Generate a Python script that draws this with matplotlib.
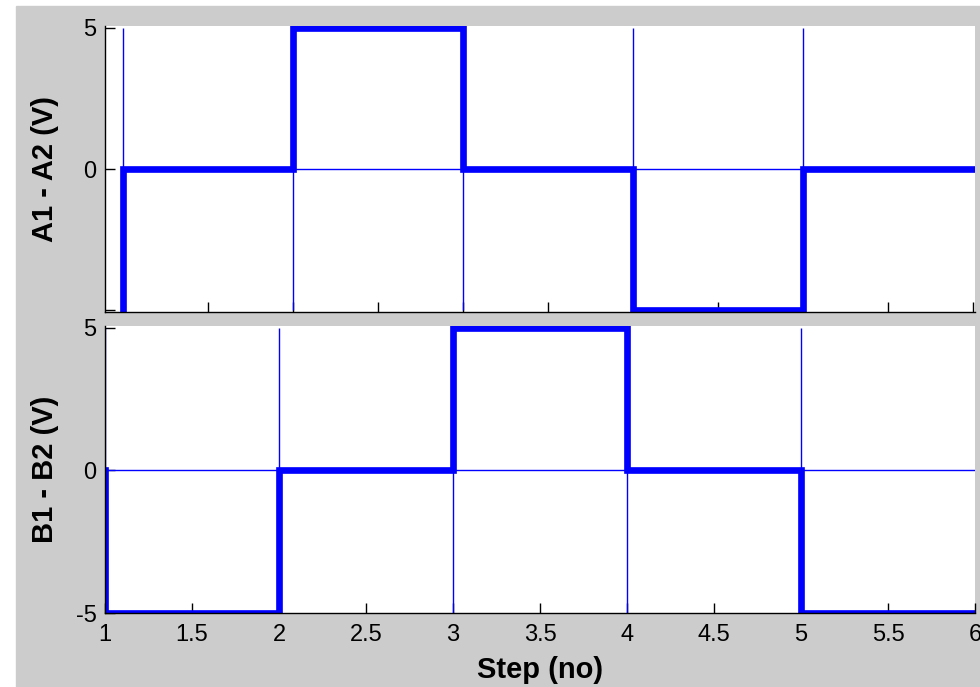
import matplotlib
matplotlib.use('Agg')
import matplotlib.pyplot as plt

plt.rcParams['font.family'] = ['Liberation Sans', 'DejaVu Sans']

# step data (steps-post: value holds until next x)
steps = [1, 2, 3, 4, 5]
a_x = [1, 1, 2, 3, 4, 5, 6]
a_y = [-5, 0, 5, 0, -5, 0, 0]
b_x = [1, 1, 2, 3, 4, 5, 6]
b_y = [0, -5, 0, 5, 0, -5, -5]
x_ticks = [1, 1.5, 2, 2.5, 3, 3.5, 4, 4.5, 5, 5.5, 6]
x_labels = ['1', '1.5', '2', '2.5', '3', '3.5', '4', '4.5', '5', '5.5', '6']
y_ticks = [-5, 0, 5]

gray = '#cccccc'
blue = '#0000ff'

fig = plt.figure(figsize=(9.8, 6.87), dpi=100, facecolor='white')
# gray panel, with a thin white border at top/left like the screenshot
fig.patches.append(plt.Rectangle((16 / 980, 0), 1, 1 - 6 / 687,
                                 transform=fig.transFigure, color=gray, zorder=-10))

ax1 = fig.add_axes([105 / 980, 1 - 312 / 687, 870 / 980, 286 / 687])
ax2 = fig.add_axes([105 / 980, 1 - 613 / 687, 870 / 980, 287 / 687])


def style(ax):
    ax.set_facecolor('white')
    ax.spines['top'].set_visible(False)
    ax.spines['right'].set_visible(False)
    for s in ('left', 'bottom'):
        ax.spines[s].set_linewidth(1.0)
    ax.tick_params(direction='in', length=7, width=1, labelsize=17, colors='black')
    ax.tick_params(axis='x', pad=8)
    ax.tick_params(axis='y', pad=6)
    ax.set_yticks(y_ticks)


# top panel
ax1.hlines(0, 1, 6, color=blue, lw=1)
ax1.vlines(steps, -5, 5, color=blue, lw=1)
ax1.plot(a_x, a_y, color=blue, lw=4.8, drawstyle='steps-post', solid_joinstyle='miter')
ax1.set_xlim(0.892, 6.01)
ax1.set_ylim(-5.07, 5.07)
style(ax1)
ax1.set_xticks(x_ticks)
ax1.set_xticklabels([])
ax1.set_yticklabels(['', '0', '5'])
ax1.set_ylabel('A1 - A2 (V)', fontsize=21, fontweight='bold', labelpad=18)

# bottom panel
ax2.hlines(0, 1, 6, color=blue, lw=1)
ax2.vlines(steps, -5, 5, color=blue, lw=1)
ax2.plot(b_x, b_y, color=blue, lw=4.8, drawstyle='steps-post', solid_joinstyle='miter')
ax2.set_xlim(1, 6.0)
ax2.set_ylim(-5, 5.07)
style(ax2)
ax2.set_xticks(x_ticks)
ax2.set_xticklabels(x_labels)
ax2.set_yticklabels(['-5', '0', '5'])
ax2.set_ylabel('B1 - B2 (V)', fontsize=21, fontweight='bold', labelpad=12)
ax2.set_xlabel('Step (no)', fontsize=21, fontweight='bold', labelpad=7)

fig.savefig('out.png', dpi=100, facecolor=fig.get_facecolor())
